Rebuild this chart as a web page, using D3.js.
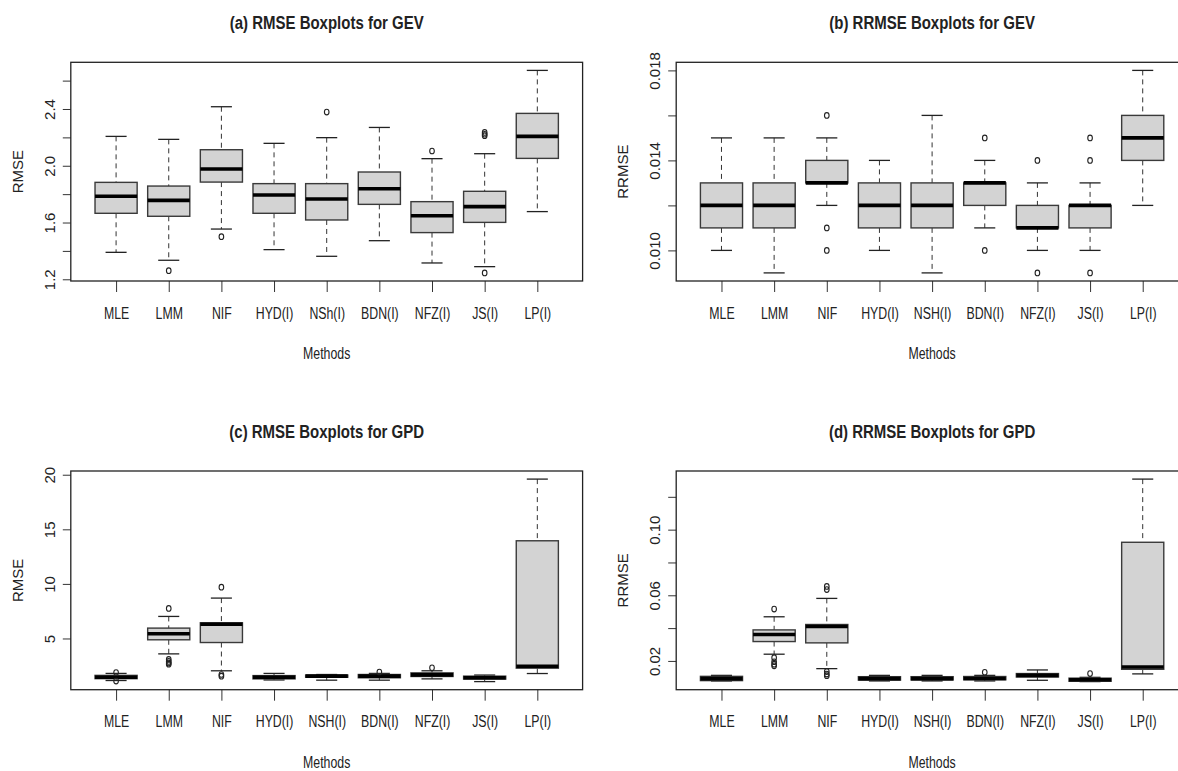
<!DOCTYPE html>
<html>
<head>
<meta charset="utf-8">
<script src="https://cdn.jsdelivr.net/npm/d3@7"></script>
<style>
  body { margin: 0; background: #fff; }
  svg text { font-family: "Liberation Sans", Arial, sans-serif; fill: #222; }
</style>
</head>
<body>
<svg id="chart" width="1178" height="771"></svg>
<script>
// method names (panel a writes NSh, the others NSH)
const methodsA = ["MLE", "LMM", "NIF", "HYD(I)", "NSh(I)", "BDN(I)", "NFZ(I)", "JS(I)", "LP(I)"];
const methodsB = ["MLE", "LMM", "NIF", "HYD(I)", "NSH(I)", "BDN(I)", "NFZ(I)", "JS(I)", "LP(I)"];

// [lower whisker, Q1, median, Q3, upper whisker]
const gevRmseStats = [
  [1.390, 1.665, 1.785, 1.883, 2.207],
  [1.334, 1.644, 1.756, 1.857, 2.186],
  [1.554, 1.885, 1.977, 2.113, 2.416],
  [1.409, 1.665, 1.794, 1.874, 2.158],
  [1.362, 1.618, 1.766, 1.874, 2.198],
  [1.472, 1.728, 1.838, 1.956, 2.270],
  [1.315, 1.529, 1.648, 1.747, 2.050],
  [1.289, 1.601, 1.712, 1.820, 2.085],
  [1.677, 2.052, 2.207, 2.369, 2.672]
];
const gevRmseOut = [[], [1.261], [1.500], [], [2.378], [], [2.104], [2.235, 2.222, 2.212, 1.245], []];
const gevRmseTicks = [1.2, 1.4, 1.6, 1.8, 2.0, 2.2, 2.4, 2.6];
const gevRmseLabels = [1.2, 1.6, 2.0, 2.4];

const gevRrmseStats = [
  [0.010, 0.011, 0.012, 0.013, 0.015],
  [0.009, 0.011, 0.012, 0.013, 0.015],
  [0.012, 0.013, 0.013, 0.014, 0.015],
  [0.010, 0.011, 0.012, 0.013, 0.014],
  [0.009, 0.011, 0.012, 0.013, 0.016],
  [0.011, 0.012, 0.013, 0.013, 0.014],
  [0.010, 0.011, 0.011, 0.012, 0.013],
  [0.010, 0.011, 0.012, 0.012, 0.013],
  [0.012, 0.014, 0.015, 0.016, 0.018]
];
const gevRrmseOut = [[], [], [0.016, 0.011, 0.010], [], [], [0.015, 0.010], [0.014, 0.009], [0.015, 0.014, 0.009], []];
const gevRrmseTicks = [0.010, 0.012, 0.014, 0.016, 0.018];
const gevRrmseLabels = [0.010, 0.014, 0.018];

const gpdRmseStats = [
  [1.15, 1.32, 1.45, 1.62, 1.80],
  [3.59, 4.88, 5.43, 5.95, 7.02],
  [2.04, 4.63, 6.31, 6.44, 8.70],
  [1.20, 1.30, 1.45, 1.60, 1.80],
  [1.18, 1.45, 1.55, 1.65, 1.70],
  [1.18, 1.40, 1.55, 1.70, 1.80],
  [1.30, 1.52, 1.67, 1.85, 2.04],
  [1.05, 1.28, 1.40, 1.55, 1.65],
  [1.79, 2.28, 2.46, 13.95, 19.60]
];
const gpdRmseOut = [[1.88, 1.10], [7.75, 3.08, 2.90, 2.75, 2.65], [9.70, 1.70, 1.55], [], [], [1.93], [2.31], [], []];
const gpdRmseTicks = [5, 10, 15, 20];
const gpdRmseLabels = [5, 10, 15, 20];

const gpdRrmseStats = [
  [0.0078, 0.0080, 0.0092, 0.0106, 0.0112],
  [0.0241, 0.0318, 0.0361, 0.0389, 0.0469],
  [0.0153, 0.0310, 0.0410, 0.0422, 0.0581],
  [0.0078, 0.0083, 0.0092, 0.0104, 0.0112],
  [0.0078, 0.0084, 0.0092, 0.0104, 0.0112],
  [0.0078, 0.0085, 0.0093, 0.0105, 0.0112],
  [0.0082, 0.0102, 0.0112, 0.0123, 0.0145],
  [0.0074, 0.0076, 0.0085, 0.0095, 0.0100],
  [0.0121, 0.0149, 0.0163, 0.0923, 0.1308]
];
const gpdRrmseOut = [[], [0.0516, 0.0220, 0.0195, 0.0180, 0.0170], [0.0654, 0.0635, 0.0135, 0.0120, 0.0110], [], [], [0.0131], [], [0.0123], []];
const gpdRrmseTicks = [0.02, 0.04, 0.06, 0.08, 0.10, 0.12];
const gpdRrmseLabels = [0.02, 0.06, 0.10];

const panels = [
  { title: "(a) RMSE Boxplots for GEV", ylab: "RMSE", names: methodsA, stats: gevRmseStats, out: gevRmseOut,
    ticks: gevRmseTicks, labels: gevRmseLabels, fmt: d3.format(".1f"), left: 70.8, top: 62.3 },
  { title: "(b) RRMSE Boxplots for GEV", ylab: "RRMSE", names: methodsB, stats: gevRrmseStats, out: gevRrmseOut,
    ticks: gevRrmseTicks, labels: gevRrmseLabels, fmt: d3.format(".3f"), left: 676.2, top: 62.3 },
  { title: "(c) RMSE Boxplots for GPD", ylab: "RMSE", names: methodsB, stats: gpdRmseStats, out: gpdRmseOut,
    ticks: gpdRmseTicks, labels: gpdRmseLabels, fmt: d3.format("d"), left: 70.8, top: 471 },
  { title: "(d) RRMSE Boxplots for GPD", ylab: "RRMSE", names: methodsB, stats: gpdRrmseStats, out: gpdRrmseOut,
    ticks: gpdRrmseTicks, labels: gpdRrmseLabels, fmt: d3.format(".2f"), left: 676.2, top: 471 }
];

const plotW = 511.8;
const plotH = 218.7;
const squeeze = 0.77;      // horizontal text in the picture is narrow
const titleSqueeze = 0.81;
const svg = d3.select("#chart");

panels.forEach(p => {
  const g = svg.append("g").attr("transform", `translate(${p.left},${p.top})`);

  // R style: range of all values, stretched 4% each side
  const all = p.stats.flat().concat(p.out.flat());
  const lo = d3.min(all), hi = d3.max(all), pad = (hi - lo) * 0.04;
  const x = d3.scaleLinear().domain([0.14, 9.86]).range([0, plotW]);
  const y = d3.scaleLinear().domain([lo - pad, hi + pad]).range([plotH, 0]);

  // y axis
  const yAxis = g.append("g")
    .call(d3.axisLeft(y).tickValues(p.ticks).tickSize(8)
      .tickFormat(d => p.labels.some(l => Math.abs(l - d) < 1e-9) ? p.fmt(d) : ""));
  yAxis.select(".domain").remove();
  yAxis.selectAll(".tick line").attr("stroke", "#333");
  yAxis.selectAll(".tick text")
    .attr("x", null).attr("dy", null)
    .attr("text-anchor", "middle")
    .attr("font-size", 15)
    .attr("transform", "translate(-16,0) rotate(-90)");

  // x axis
  const xAxis = g.append("g").attr("transform", `translate(0,${plotH})`)
    .call(d3.axisBottom(x).tickValues(d3.range(1, 10)).tickSize(11)
      .tickFormat(i => p.names[i - 1]));
  xAxis.select(".domain").remove();
  xAxis.selectAll(".tick line").attr("stroke", "#333");
  xAxis.selectAll(".tick text")
    .attr("y", null).attr("dy", null)
    .attr("font-size", 16)
    .attr("transform", `translate(0,37.5) scale(${squeeze},1)`);

  // boxes
  const box = g.selectAll(".bx").data(p.stats).join("g").attr("class", "bx");
  box.append("line")
    .attr("x1", (d, i) => x(i + 1)).attr("x2", (d, i) => x(i + 1))
    .attr("y1", d => y(d[4])).attr("y2", d => y(d[3]))
    .attr("stroke", "#333").attr("stroke-dasharray", "5,4");
  box.append("line")
    .attr("x1", (d, i) => x(i + 1)).attr("x2", (d, i) => x(i + 1))
    .attr("y1", d => y(d[1])).attr("y2", d => y(d[0]))
    .attr("stroke", "#333").attr("stroke-dasharray", "5,4");
  [0, 4].forEach(k => {
    box.append("line")
      .attr("x1", (d, i) => x(i + 0.8)).attr("x2", (d, i) => x(i + 1.2))
      .attr("y1", d => y(d[k])).attr("y2", d => y(d[k]))
      .attr("stroke", "#222").attr("stroke-width", 1.3);
  });
  box.append("rect")
    .attr("x", (d, i) => x(i + 0.6))
    .attr("width", x(1.4) - x(0.6))
    .attr("y", d => y(d[3]))
    .attr("height", d => y(d[1]) - y(d[3]))
    .attr("fill", "#d3d3d3").attr("stroke", "#3a3a3a").attr("stroke-width", 1.4);
  box.append("line")
    .attr("x1", (d, i) => x(i + 0.6)).attr("x2", (d, i) => x(i + 1.4))
    .attr("y1", d => y(d[2])).attr("y2", d => y(d[2]))
    .attr("stroke", "#000").attr("stroke-width", 3.6);

  // outliers
  p.out.forEach((vals, i) => {
    g.selectAll(null).data(vals).join("ellipse")
      .attr("cx", x(i + 1)).attr("cy", d => y(d))
      .attr("rx", 2.3).attr("ry", 2.8)
      .attr("fill", "none").attr("stroke", "#222").attr("stroke-width", 1.1);
  });

  // frame
  g.append("rect").attr("width", plotW).attr("height", plotH)
    .attr("fill", "none").attr("stroke", "#222").attr("stroke-width", 1.3);

  // titles
  g.append("text")
    .attr("transform", `translate(${plotW / 2},-33) scale(${titleSqueeze},1)`)
    .attr("text-anchor", "middle").attr("font-size", 18.5).attr("font-weight", "bold")
    .attr("fill", "#111")
    .text(p.title);
  g.append("text")
    .attr("transform", `translate(${plotW / 2},${plotH + 78}) scale(${squeeze},1)`)
    .attr("text-anchor", "middle").attr("font-size", 16)
    .text("Methods");
  g.append("text")
    .attr("transform", `translate(-48,${plotH / 2}) rotate(-90)`)
    .attr("text-anchor", "middle").attr("font-size", 15)
    .text(p.ylab);
});
</script>
</body>
</html>
